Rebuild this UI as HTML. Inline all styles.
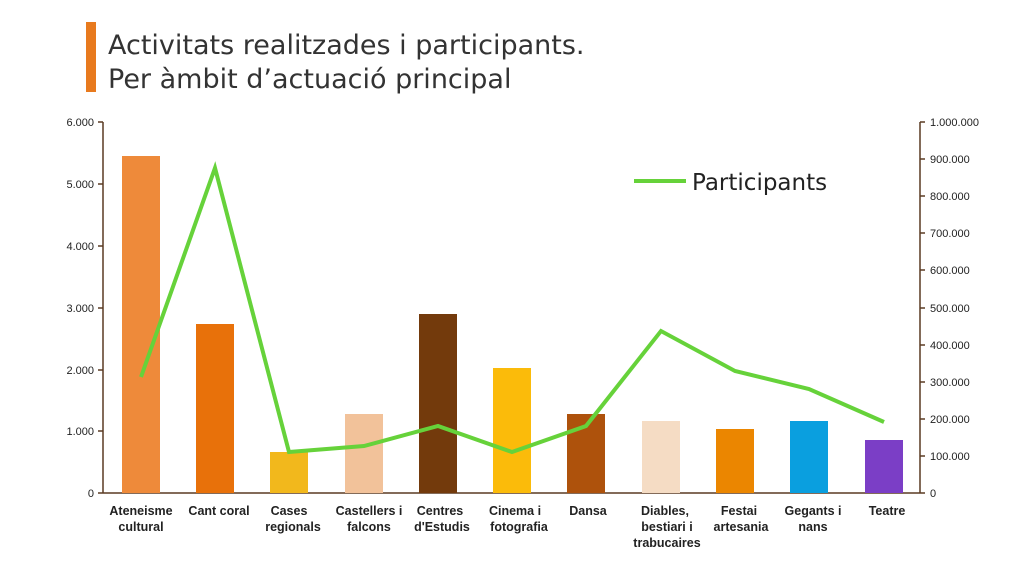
<!DOCTYPE html>
<html><head><meta charset="utf-8"><style>
body{margin:0;background:#fff;width:1024px;height:566px;overflow:hidden}
text{font-family:"Liberation Sans",sans-serif}
.dv{font-family:"DejaVu Sans",sans-serif}
</style></head><body>
<svg width="1024" height="566" viewBox="0 0 1024 566" xmlns="http://www.w3.org/2000/svg">
<rect x="86" y="22" width="10" height="70" fill="#e87a1e"/>
<text class="dv" x="108" y="54" font-size="27" fill="#333">Activitats realitzades i participants.</text>
<text class="dv" x="108" y="88" font-size="27" fill="#333">Per àmbit d’actuació principal</text>
<g stroke="#5a3a22" stroke-width="1.5">
<line x1="103" y1="122" x2="103" y2="493"/>
<line x1="920" y1="122" x2="920" y2="493"/>
<line x1="103" y1="493" x2="920" y2="493"/>
<line x1="98" y1="122" x2="103" y2="122"/><line x1="98" y1="184" x2="103" y2="184"/><line x1="98" y1="246" x2="103" y2="246"/><line x1="98" y1="308" x2="103" y2="308"/><line x1="98" y1="370" x2="103" y2="370"/><line x1="98" y1="431" x2="103" y2="431"/><line x1="98" y1="493" x2="103" y2="493"/>
<line x1="920" y1="122" x2="925" y2="122"/><line x1="920" y1="159" x2="925" y2="159"/><line x1="920" y1="196" x2="925" y2="196"/><line x1="920" y1="233" x2="925" y2="233"/><line x1="920" y1="270" x2="925" y2="270"/><line x1="920" y1="308" x2="925" y2="308"/><line x1="920" y1="345" x2="925" y2="345"/><line x1="920" y1="382" x2="925" y2="382"/><line x1="920" y1="419" x2="925" y2="419"/><line x1="920" y1="456" x2="925" y2="456"/><line x1="920" y1="493" x2="925" y2="493"/>
</g>
<g font-size="11" fill="#222" text-anchor="end">
<text x="94" y="126">6.000</text><text x="94" y="188">5.000</text><text x="94" y="250">4.000</text><text x="94" y="312">3.000</text><text x="94" y="374">2.000</text><text x="94" y="435">1.000</text><text x="94" y="497">0</text>
</g>
<g font-size="11" fill="#222">
<text x="930" y="126">1.000.000</text><text x="930" y="163">900.000</text><text x="930" y="200">800.000</text><text x="930" y="237">700.000</text><text x="930" y="274">600.000</text><text x="930" y="312">500.000</text><text x="930" y="349">400.000</text><text x="930" y="386">300.000</text><text x="930" y="423">200.000</text><text x="930" y="460">100.000</text><text x="930" y="497">0</text>
</g>
<rect x="122" y="156" width="38" height="337" fill="#ee8a3a"/>
<rect x="196" y="324" width="38" height="169" fill="#e8710a"/>
<rect x="270" y="452" width="38" height="41" fill="#f2b81c"/>
<rect x="345" y="414" width="38" height="79" fill="#f2c29a"/>
<rect x="419" y="314" width="38" height="179" fill="#733a0c"/>
<rect x="493" y="368" width="38" height="125" fill="#fbbb0a"/>
<rect x="567" y="414" width="38" height="79" fill="#ae520c"/>
<rect x="642" y="421" width="38" height="72" fill="#f5dcc4"/>
<rect x="716" y="429" width="38" height="64" fill="#eb8600"/>
<rect x="790" y="421" width="38" height="72" fill="#0a9fdf"/>
<rect x="865" y="440" width="38" height="53" fill="#7b3ec6"/>
<polyline fill="none" stroke="#66d23a" stroke-width="4" stroke-linejoin="miter" points="141,377 215,168 289,452 364,446 438,426 512,452 586,426 661,331 735,371 809,389 884,422"/>
<line x1="634" y1="181" x2="686" y2="181" stroke="#66d23a" stroke-width="4"/>
<text class="dv" x="692" y="190" font-size="23" fill="#222">Participants</text>
<g font-size="12.5" font-weight="bold" fill="#222" text-anchor="middle">
<text x="141" y="515">Ateneisme</text><text x="141" y="531">cultural</text>
<text x="219" y="515">Cant coral</text>
<text x="289" y="515">Cases</text><text x="293" y="531">regionals</text>
<text x="369" y="515">Castellers i</text><text x="369" y="531">falcons</text>
<text x="440" y="515">Centres</text><text x="442" y="531">d'Estudis</text>
<text x="515" y="515">Cinema i</text><text x="519" y="531">fotografia</text>
<text x="588" y="515">Dansa</text>
<text x="665" y="515">Diables,</text><text x="667" y="531">bestiari i</text><text x="667" y="547">trabucaires</text>
<text x="739" y="515">Festai</text><text x="741" y="531">artesania</text>
<text x="813" y="515">Gegants i</text><text x="813" y="531">nans</text>
<text x="887" y="515">Teatre</text>
</g>
</svg>
</body></html>
